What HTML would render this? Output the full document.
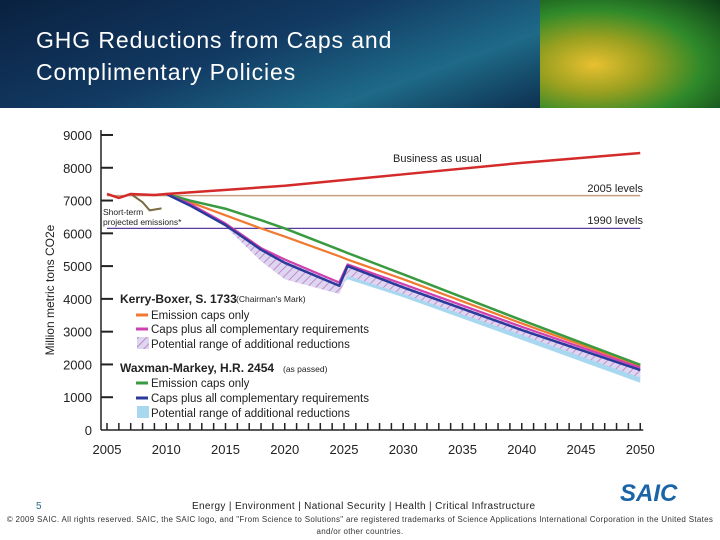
<!DOCTYPE html>
<html><head><meta charset="utf-8">
<style>
body{margin:0;width:720px;height:540px;overflow:hidden;background:#fff;font-family:"Liberation Sans",sans-serif;position:relative}
#hdr{position:absolute;left:0;top:0;width:540px;height:108px;background:linear-gradient(160deg,#0a2140 0%,#123a63 45%,#1e6a88 75%,#0e3050 100%)}
#img{position:absolute;left:540px;top:0;width:180px;height:108px;background:radial-gradient(ellipse at 30% 60%,#e8c030 0%,#9aa020 30%,#2f8a2a 60%,#0d3d18 100%)}
.t{position:absolute;color:#fff;font-size:23px;letter-spacing:0.9px;left:36px}
.f{position:absolute;font-size:9px;color:#222}
</style></head><body>
<div id="hdr"></div>
<div id="img"></div>
<div class="t" style="top:27px">GHG Reductions from Caps and</div>
<div class="t" style="top:59px">Complimentary Policies</div>
<svg id="chart" width="720" height="540" style="position:absolute;left:0;top:0"></svg>
<div class="f" style="left:36px;top:501px;color:#2a6a8a;font-size:10px">5</div>
<div class="f" style="left:192px;top:501px;font-size:10px;letter-spacing:0.35px">Energy | Environment | National Security | Health | Critical Infrastructure</div>
<div class="f" style="left:2px;width:716px;text-align:center;top:514px;font-size:8px;letter-spacing:0.3px;line-height:12px;color:#333">© 2009 SAIC. All rights reserved. SAIC, the SAIC logo, and "From Science to Solutions" are registered trademarks of Science Applications International Corporation in the United States and/or other countries.</div>
<div class="f" style="left:620px;top:480px;font-size:24px;font-weight:bold;font-style:italic;color:#1c64a8">SAIC</div>
<script>
const yTicks=[0,1000,2000,3000,4000,5000,6000,7000,8000,9000];
const xTicks=[2005,2010,2015,2020,2025,2030,2035,2040,2045,2050];
const level2005=7150, level1990=6150;
const bauYears=[2005,2006,2007,2009,2010,2020,2030,2040,2050];
const bauVals=[7200,7080,7200,7170,7200,7450,7800,8150,8450];
const stYears=[2007,2008,2008.6,2009.6];
const stVals=[7200,6950,6700,6760];
const yrs=[2010,2012,2015,2018,2020,2024.6,2025.3,2030,2040,2050];
const wmCaps=[7200,7000,6750,6400,6150,5500,5400,4750,3350,1990];
const kbCaps=[7200,6950,6550,6150,5900,5300,5200,4600,3250,1950];
const wmComp=[7200,6850,6250,5500,5100,4400,5000,4350,3050,1830];
const kbComp=[7200,6900,6300,5550,5200,4500,5050,4450,3150,1900];
const kbLow=[7200,6900,6200,5150,4600,4150,4700,4150,2900,1600];
const wmLow=[7200,6850,6250,5500,5000,4350,4600,4050,2750,1440];
const X=v=>107+(v-2005)*11.85, Y=v=>430-v*0.03278;
const svg=document.getElementById('chart'),NS='http://www.w3.org/2000/svg';
function el(t,a,txt){const e=document.createElementNS(NS,t);for(const k in a)e.setAttribute(k,a[k]);if(txt!=null)e.textContent=txt;svg.appendChild(e);return e;}
const defs=el('defs',{});
defs.innerHTML='<pattern id="hatch" width="6" height="6" patternUnits="userSpaceOnUse" patternTransform="rotate(45)"><rect width="6" height="6" fill="#dcd6f0"/><line x1="0" y1="0" x2="0" y2="6" stroke="#c070c0" stroke-width="1.5"/></pattern>';
const pts=(xs,ys)=>xs.map((x,i)=>X(x)+','+Y(ys[i])).join(' ');
function band(top,low,fill,name){const p=yrs.map((x,i)=>X(x)+','+Y(top[i])).concat(yrs.slice().reverse().map((x,j)=>{const i=yrs.length-1-j;return X(x)+','+Y(low[i]);})).join(' ');
const e=el('polygon',{points:p,fill:fill});}
band(wmComp,wmLow,'#a8d8f0','wm-range-band');
band(kbComp,kbLow,'url(#hatch)','kb-range-band');
function line(xs,ys,c,w,name){const e=el('polyline',{points:pts(xs,ys),fill:'none',stroke:c,'stroke-width':w,'stroke-linejoin':'round'});}
let e=el('line',{x1:X(2005),x2:X(2050),y1:Y(level2005),y2:Y(level2005),stroke:'#c8a080','stroke-width':1.5});

e=el('line',{x1:X(2005),x2:X(2050),y1:Y(level1990),y2:Y(level1990),stroke:'#5a3a9a','stroke-width':1.2});

line(stYears,stVals,'#7a6a40',2,'short-term-line');
line(yrs,kbCaps,'#f07a30',2.2,'kb-caps-line');
line(yrs,wmCaps,'#3a9a40',2.5,'wm-caps-line');
line(yrs,kbComp,'#d040b0',2.2,'kb-comp-line');
line(yrs,wmComp,'#2a3a9a',2.5,'wm-comp-line');
line(bauYears,bauVals,'#d42a2a',2.5,'bau-line');
e=el('line',{x1:101,x2:101,y1:130,y2:430,stroke:'#222','stroke-width':1.5});

e=el('line',{x1:101,x2:X(2050)+3,y1:430,y2:430,stroke:'#222','stroke-width':1.5});

yTicks.forEach(v=>{if(v>0){const t=el('line',{x1:101,x2:113,y1:Y(v),y2:Y(v),stroke:'#222','stroke-width':2});}
const l=el('text',{x:92,y:Y(v)+5,'text-anchor':'end','font-size':13,fill:'#222'},v);});
for(let yr=2005;yr<=2050;yr++){const t=el('line',{x1:X(yr),x2:X(yr),y1:430,y2:423,stroke:'#222','stroke-width':1.5});}
xTicks.forEach(v=>{const l=el('text',{x:X(v),y:454,'text-anchor':'middle','font-size':13,fill:'#222'},v);});
e=el('text',{x:0,y:0,transform:'translate(54,290) rotate(-90)','text-anchor':'middle','font-size':12,fill:'#222'},'Million metric tons CO2e');

function txt(x,y,s,sz,extra,name){const t=el('text',Object.assign({x:x,y:y,'font-size':sz,fill:'#222'},extra||{}),s);return t;}
txt(393,162,'Business as usual',11,{},'bau-label');
txt(643,192,'2005 levels',11,{'text-anchor':'end'},'label-2005');
txt(643,224,'1990 levels',11,{'text-anchor':'end'},'label-1990');
txt(103,215,'Short-term',8.5,{},'short-term-label');
txt(103,225,'projected emissions*',8.5,{},'short-term-label-2');
txt(120,303,'Kerry-Boxer, S. 1733',12,{'font-weight':'bold'},'kb-legend-title');
txt(236,302,"(Chairman's Mark)",8.5,{},'kb-legend-note');
txt(120,372,'Waxman-Markey, H.R. 2454',12,{'font-weight':'bold'},'wm-legend-title');
txt(283,372,'(as passed)',8.5,{},'wm-legend-note');
const leg=[[319,'#f07a30','line','Emission caps only','kb-legend-caps'],[333,'#d040b0','line','Caps plus all complementary requirements','kb-legend-comp'],[348,'url(#hatch)','box','Potential range of additional reductions','kb-legend-range'],[387,'#3a9a40','line','Emission caps only','wm-legend-caps'],[402,'#2a3a9a','line','Caps plus all complementary requirements','wm-legend-comp'],[417,'#a8d8f0','box','Potential range of additional reductions','wm-legend-range']];
leg.forEach(r=>{let s;if(r[2]=='line')s=el('line',{x1:136,x2:148,y1:r[0]-4,y2:r[0]-4,stroke:r[1],'stroke-width':3});else s=el('rect',{x:137,y:r[0]-11,width:12,height:12,fill:r[1]});

txt(151,r[0],r[3],11.5,{},r[4]);});
</script>
</body></html>
